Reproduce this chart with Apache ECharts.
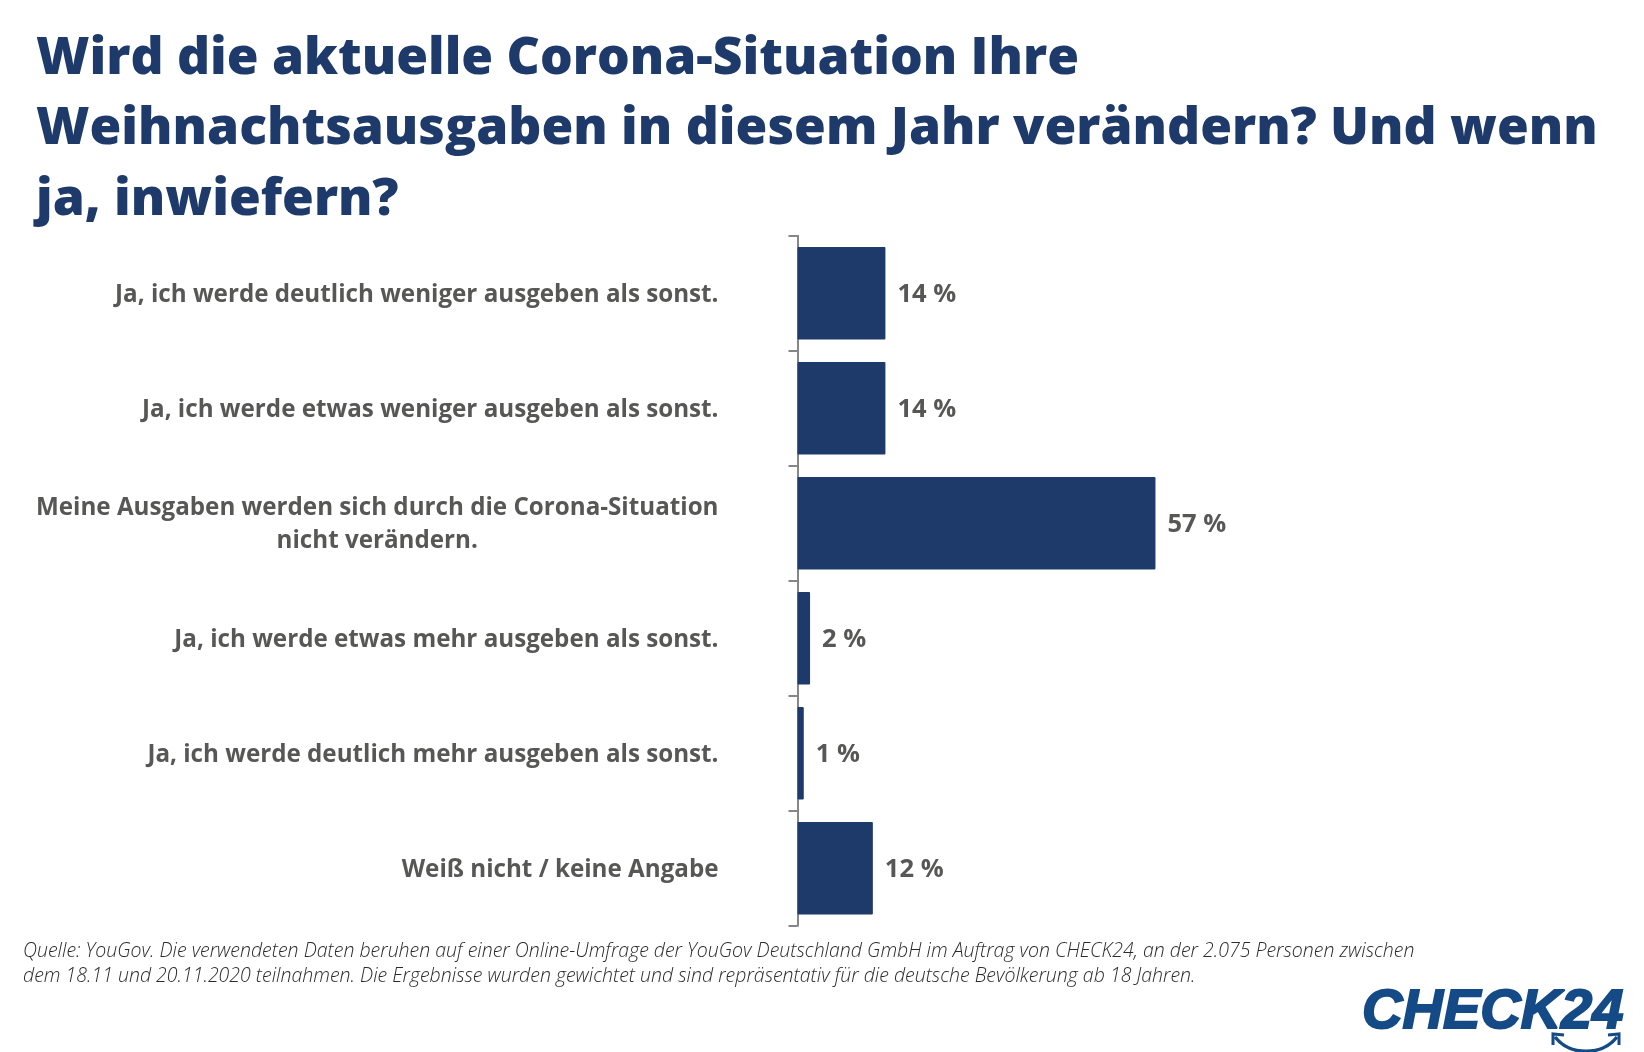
<!DOCTYPE html>
<html>
<head>
<meta charset="utf-8">
<title>Weihnachtsausgaben</title>
<script src="https://cdn.jsdelivr.net/npm/echarts@6/dist/echarts.min.js"></script>
<style>
html, body { margin: 0; padding: 0; background: #fff; }
#main { width: 1644px; height: 1052px; }
</style>
</head>
<body>
<div id="main"></div>
<script>
var categories = [
    'Ja, ich werde deutlich weniger ausgeben als sonst.',
    'Ja, ich werde etwas weniger ausgeben als sonst.',
    ['Meine Ausgaben werden sich durch die Corona-Situation', 'nicht verändern.'],
    'Ja, ich werde etwas mehr ausgeben als sonst.',
    'Ja, ich werde deutlich mehr ausgeben als sonst.',
    'Weiß nicht / keine Angabe'
];
var values = [14, 14, 57, 2, 1, 12];
var titleText = 'Wird die aktuelle Corona-Situation Ihre\nWeihnachtsausgaben in diesem Jahr verändern? Und wenn\nja, inwiefern?';
var sourceText = 'Quelle: YouGov. Die verwendeten Daten beruhen auf einer Online-Umfrage der YouGov Deutschland GmbH im Auftrag von CHECK24, an der 2.075 Personen zwischen\ndem 18.11 und 20.11.2020 teilnahmen. Die Ergebnisse wurden gewichtet und sind repräsentativ für die deutsche Bevölkerung ab 18 Jahren.';

var navy = '#1e3a6b';
var grey = '#575756';
var logoBlue = '#144a86';

var chart = echarts.init(document.getElementById('main'));
chart.setOption({
    backgroundColor: '#fff',
    animation: false,
    title: [{
        text: titleText,
        left: 31,
        top: 19,
        textStyle: {
            fontFamily: 'Open Sans',
            fontSize: 51.5,
            fontWeight: 800,
            lineHeight: 70.4,
            color: navy
        }
    }, {
        text: sourceText,
        left: 18,
        top: 934,
        textStyle: {
            fontFamily: 'Open Sans',
            fontSize: 19.5,
            fontStyle: 'italic',
            fontWeight: 300,
            lineHeight: 25,
            color: '#2b2b2b'
        }
    }],
    grid: {
        left: 797.5,
        top: 235.7,
        width: 628,
        height: 690,
        containLabel: false
    },
    xAxis: {
        type: 'value',
        min: 0,
        max: 100,
        show: false
    },
    yAxis: {
        type: 'category',
        inverse: true,
        data: categories.map(function (c) { return Array.isArray(c) ? c.join('\n') : c; }),
        axisLine: { lineStyle: { color: '#868686', width: 2 } },
        axisTick: { show: true, length: 9, lineStyle: { color: '#868686', width: 2 } },
        axisLabel: {
            margin: 79,
            align: 'right',
            padding: [3, 0, 0, 0],
            fontFamily: 'Open Sans',
            fontSize: 24.2,
            fontWeight: 'bold',
            lineHeight: 33.6,
            color: grey,
            formatter: function (v) {
                var parts = v.split('\n');
                if (parts.length < 2) return v;
                return '{a|' + parts[0] + '}\n{b|' + parts[1] + '}';
            },
            rich: {
                a: { fontFamily: 'Open Sans', fontSize: 24.2, fontWeight: 'bold', lineHeight: 33.6, color: grey },
                b: { fontFamily: 'Open Sans', fontSize: 24.2, fontWeight: 'bold', lineHeight: 33.6, color: grey, align: 'center' }
            }
        }
    },
    series: [{
        type: 'bar',
        data: values,
        barCategoryGap: '19.5%',
        itemStyle: { color: navy, borderRadius: 1 },
        label: {
            show: true,
            position: 'right',
            distance: 12,
            offset: [0, 2],
            formatter: '{c} %',
            fontFamily: 'Open Sans',
            fontSize: 25.5,
            fontWeight: 'bold',
            color: grey
        }
    }],
    graphic: [{
        type: 'text',
        left: 1361,
        top: 984,
        style: {
            text: 'CHECK24',
            font: 'italic bold 56px "Liberation Sans"',
            fill: logoBlue,
            stroke: logoBlue,
            lineWidth: 2
        }
    }, {
        type: 'bezierCurve',
        shape: { x1: 1555, y1: 1037, x2: 1617, y2: 1037, cpx1: 1570, cpy1: 1056, cpx2: 1602, cpy2: 1056 },
        style: { stroke: logoBlue, lineWidth: 3.5, fill: null }
    }, {
        type: 'polyline',
        shape: { points: [[1553, 1045], [1553, 1034], [1564, 1035]] },
        style: { stroke: logoBlue, lineWidth: 3, fill: null }
    }, {
        type: 'polyline',
        shape: { points: [[1619, 1045], [1619, 1034], [1608, 1035]] },
        style: { stroke: logoBlue, lineWidth: 3, fill: null }
    }]
});
</script>
</body>
</html>
